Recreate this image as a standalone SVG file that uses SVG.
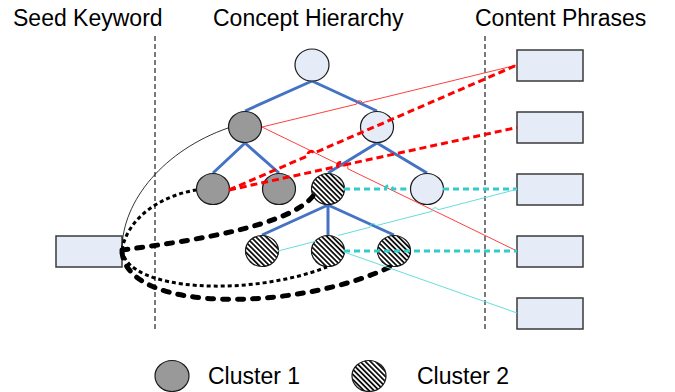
<svg xmlns="http://www.w3.org/2000/svg" width="675" height="392" viewBox="0 0 675 392">
<style>
.t{font-family:"Liberation Sans",Arial,sans-serif;font-size:23px;fill:#000}
.blue{stroke:#4472C4;stroke-width:3;fill:none}
.n{stroke:#1a1a1a;stroke-width:1.2}
.light{fill:#E5ECF7}
.gray{fill:#999999}
.hatch{fill:url(#hatch)}
.box{fill:#E5ECF7;stroke:#3a3a3a;stroke-width:1.5}
.sep{stroke:#222;stroke-width:1.2;stroke-dasharray:5 3;fill:none}
.redthin{stroke:#FF4040;stroke-width:1;fill:none}
.reddash{stroke:#FF0000;stroke-width:3;stroke-dasharray:7 4;fill:none}
.cyandash{stroke:#33CCCC;stroke-width:3;stroke-dasharray:6 4;fill:none}
.cyanthin{stroke:#66DDDD;stroke-width:1;fill:none}
.kthin{stroke:#000;stroke-width:0.8;fill:none}
.kdot{stroke:#000;stroke-width:3;stroke-dasharray:4 3;fill:none}
.kdash{stroke:#000;stroke-width:5;stroke-dasharray:6 9;stroke-linecap:round;fill:none}
</style>
<defs>
<pattern id="hatch" patternUnits="userSpaceOnUse" width="3.6" height="3.6" patternTransform="rotate(45)">
<rect x="0" y="0" width="3.6" height="3.6" fill="#ffffff"/>
<rect x="0" y="0" width="3.6" height="1.8" fill="#111111"/>
</pattern>
</defs>
<rect width="675" height="392" fill="#ffffff"/>
<g id="titles">
<text class="t" x="13" y="26">Seed Keyword</text>
<text class="t" x="213" y="26">Concept Hierarchy</text>
<text class="t" x="475" y="26">Content Phrases</text>
</g>
<g id="separators">
<line class="sep" x1="155" y1="36" x2="155" y2="330"/>
<line class="sep" x1="485" y1="36" x2="485" y2="330"/>
</g>
<g id="tree-edges">
<path class="blue" d="M312,81 L245,111 M312,81 L377,111 M245,143 L213,173 M245,143 L279,173 M377,143 L328,173 M377,143 L427,173 M328,205 L262,235 M328,205 L328,235 M328,205 L394,235"/>
</g>
<g id="node-seed"><rect class="box" x="56" y="236" width="66" height="31"/></g>
<g id="node-root"><ellipse class="n light" cx="312" cy="65" rx="17" ry="16"/></g>
<g id="node-c1a"><ellipse class="n gray" cx="245" cy="127" rx="16.5" ry="15.5"/></g>
<g id="node-b"><ellipse class="n light" cx="377" cy="127" rx="16.5" ry="15.5"/></g>
<g id="node-c1b"><ellipse class="n gray" cx="213" cy="189" rx="16.5" ry="15.5"/></g>
<g id="node-c1c"><ellipse class="n gray" cx="279" cy="189" rx="16.5" ry="15.5"/></g>
<g id="node-c2a"><ellipse class="n hatch" cx="328" cy="189" rx="16.5" ry="15.5"/></g>
<g id="node-d"><ellipse class="n light" cx="427" cy="189" rx="16.5" ry="15.5"/></g>
<g id="node-c2b"><ellipse class="n hatch" cx="262" cy="251" rx="16.5" ry="15.5"/></g>
<g id="node-c2c"><ellipse class="n hatch" cx="328" cy="251" rx="16.5" ry="15.5"/></g>
<g id="node-c2d"><ellipse class="n hatch" cx="394" cy="251" rx="16.5" ry="15.5"/></g>
<g id="node-p1"><rect class="box" x="517" y="50" width="66" height="31"/></g>
<g id="node-p2"><rect class="box" x="517" y="112" width="66" height="31"/></g>
<g id="node-p3"><rect class="box" x="517" y="174" width="66" height="31"/></g>
<g id="node-p4"><rect class="box" x="517" y="236" width="66" height="31"/></g>
<g id="node-p5"><rect class="box" x="517" y="298" width="66" height="31"/></g>
<g id="connectors">
<path class="kthin" d="M122,250 C122,200 165,150 228,128"/>
<path class="kdot" d="M122,250 C128,215 165,195 196,190"/>
<path class="kdash" d="M122,250 C200,240 290,225 313,196"/>
<path class="kdot" d="M122,250 C128,292 250,297 327,267"/>
<path class="kdash" d="M122,252 C128,315 300,310 390,267"/>
<path class="redthin" d="M262,127 L356.6,104.1 A3,3 0 0 1 362.4,102.7 L517,65"/>
<path class="redthin" d="M262,127 L342.3,166.1 A3,3 0 0 1 347.7,168.7 L517,251"/>
<path class="reddash" d="M229,190 L308.2,155.6 A3,3 0 0 1 313.8,153.2 L517,65"/>
<path class="reddash" d="M229,190 L337.6,166.4 A3.5,3.5 0 0 1 344.4,164.9 L517,127.5"/>
<path class="cyandash" d="M344,189 L385.5,189 A3.5,3.5 0 0 1 392.5,189 L410,189 M443,189 L517,189"/>
<path class="cyandash" d="M344,251 L517,251"/>
<path class="cyanthin" d="M278,251 L316,241.2 M338,235.5 L370.1,227.2 A3,3 0 0 1 375.9,225.7 L432.1,211.3 A3,3 0 0 1 437.9,209.8 L517,189.3"/>
<path class="cyanthin" d="M344,252 L517,313"/>
</g>
<g id="legend">
<ellipse class="n gray" cx="172" cy="376" rx="17" ry="15.5"/>
<text class="t" x="208" y="384">Cluster 1</text>
<ellipse class="n hatch" cx="369" cy="376" rx="17" ry="15.5"/>
<text class="t" x="417" y="384">Cluster 2</text>
</g>
</svg>
